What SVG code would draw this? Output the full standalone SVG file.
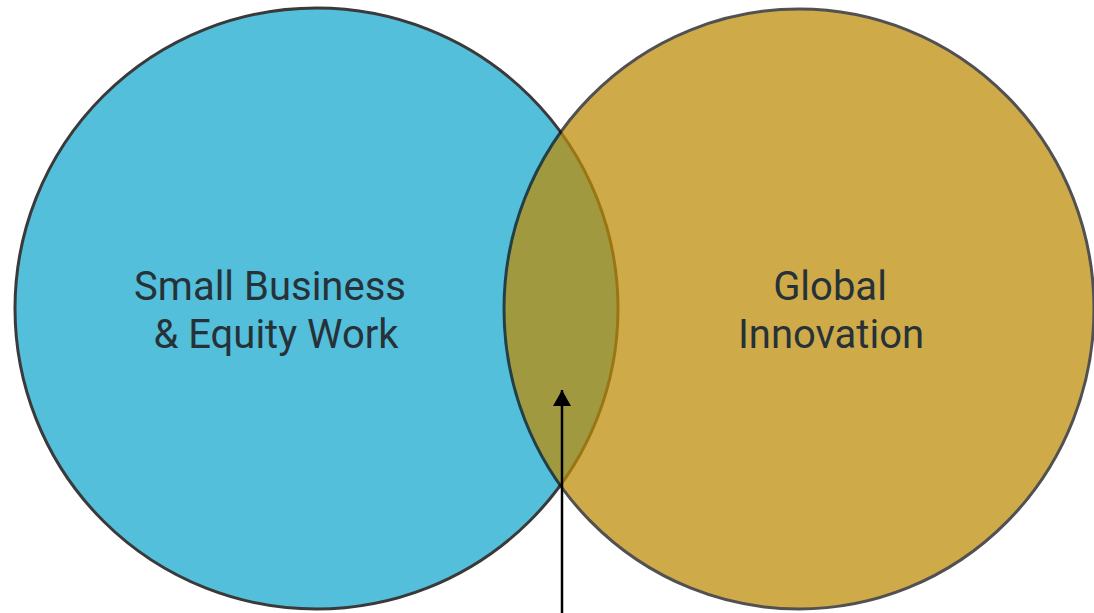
<svg xmlns="http://www.w3.org/2000/svg" width="1094" height="613" viewBox="0 0 1094 613">
  <style>
    .label { font-family: Roboto, "Liberation Sans", sans-serif; font-size: 40px; fill: #263238; text-anchor: middle; }
    .ring { stroke: #3a3a3a; stroke-width: 3; }
  </style>
  <defs>
    <marker id="arrow" markerWidth="16" markerHeight="18" refX="16" refY="9" orient="auto" markerUnits="userSpaceOnUse" viewBox="0 0 16 18">
      <path d="M0 0 L16 9 L0 18 Z" fill="#000"/>
    </marker>
  </defs>
  <rect width="1094" height="613" fill="#ffffff"/>
  <g id="node-small-business">
    <ellipse class="ring" cx="316.5" cy="308.5" rx="301.5" ry="300.5" fill="#53BFDB"/>
  </g>
  <g id="node-global-innovation" opacity="0.73">
    <ellipse cx="799" cy="309" rx="295" ry="300" fill="#BE8C07" stroke="#111" stroke-width="3"/>
  </g>
  <g id="labels">
    <text class="label" x="270" y="300">Small Business</text>
    <text class="label" x="276" y="348">&amp; Equity Work</text>
    <text class="label" x="830" y="300">Global</text>
    <text class="label" x="831" y="348">Innovation</text>
  </g>
  <g id="connectors">
    <line x1="562" y1="613" x2="562" y2="390" stroke="#000" stroke-width="2.5" marker-end="url(#arrow)"/>
  </g>
</svg>
